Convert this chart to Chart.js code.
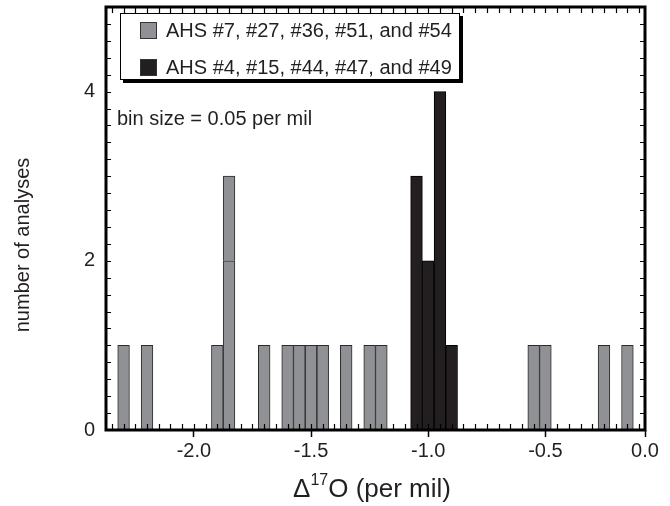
<!DOCTYPE html>
<html>
<head>
<meta charset="utf-8">
<script src="https://cdn.jsdelivr.net/npm/chart.js@4"></script>
<style>
  html, body { margin: 0; padding: 0; background: #fff; }
  #wrap { width: 670px; height: 506px; position: relative; }
</style>
</head>
<body>
<div id="wrap"><canvas id="c" width="670" height="506"></canvas></div>
<script>
// histogram, bin size 0.05 per mil, values are bin centres
const grayBins   = [-2.30, -2.20, -1.90, -1.85, -1.70, -1.60, -1.55, -1.50, -1.45, -1.35, -1.25, -1.20, -0.55, -0.50, -0.25, -0.15];
const grayCounts = [1, 1, 1, 2, 1, 1, 1, 1, 1, 1, 1, 1, 1, 1, 1, 1];
// the -1.85 bin is drawn as two blocks (2 + 1)
const grayTopBins   = [-1.85];
const grayTopCounts = [1];
const blackBins   = [-1.05, -1.00, -0.95, -0.90];
const blackCounts = [3, 2, 4, 1];

const xTickValues = [-2.0, -1.5, -1.0, -0.5, 0.0];
const xTickLabels = ['-2.0', '-1.5', '-1.0', '-0.5', '0.0'];
const yTickValues = [0, 2, 4];
const xRange = [-2.375, -0.075];
const yRange = [0, 5];
const binSize = 0.05;

const legendLabels = ['AHS #7, #27, #36, #51, and #54', 'AHS #4, #15, #44, #47, and #49'];
const grayColor = '#909195';
const blackColor = '#231f20';
const FONT = "'Liberation Sans', Arial, Helvetica, sans-serif";

const toPoints = (bins, counts) => bins.map((b, i) => ({ x: b, y: counts[i] }));

const decorations = {
  id: 'decorations',
  afterDatasetsDraw(chart) {
    const { ctx, chartArea: a, scales: { x, y } } = chart;
    ctx.save();
    ctx.strokeStyle = '#000';
    // minor ticks, pointing inward
    ctx.lineWidth = 1.2;
    ctx.beginPath();
    for (let v = xRange[0] + binSize / 2; v < xRange[1]; v += binSize) {
      const px = Math.round(x.getPixelForValue(v)) + 0.5;
      ctx.moveTo(px, a.bottom); ctx.lineTo(px, a.bottom - 6);
      ctx.moveTo(px, a.top); ctx.lineTo(px, a.top + 6);
    }
    for (let v = 0.2; v < yRange[1]; v += 0.2) {
      const py = Math.round(y.getPixelForValue(v)) + 0.5;
      ctx.moveTo(a.left, py); ctx.lineTo(a.left + 5, py);
      ctx.moveTo(a.right, py); ctx.lineTo(a.right - 5, py);
    }
    ctx.stroke();
    // frame
    ctx.lineWidth = 3;
    ctx.strokeRect(a.left, a.top, a.right - a.left, a.bottom - a.top);
    ctx.restore();
  },
  afterDraw(chart) {
    const { ctx } = chart;
    ctx.save();
    // legend box with drop shadow
    const bx = 120, by = 13, bw = 340, bh = 67;
    ctx.fillStyle = '#000';
    ctx.fillRect(bx + 3, by + 3, bw, bh);
    ctx.fillStyle = '#fff';
    ctx.fillRect(bx, by, bw, bh);
    ctx.lineWidth = 1;
    ctx.strokeStyle = '#000';
    ctx.strokeRect(bx + 0.5, by + 0.5, bw - 1, bh - 1);

    const rows = [30, 67];
    const swatches = [grayColor, blackColor];
    ctx.font = '20px ' + FONT;
    ctx.textBaseline = 'middle';
    ctx.textAlign = 'left';
    legendLabels.forEach((lab, i) => {
      ctx.fillStyle = swatches[i];
      ctx.fillRect(140, rows[i] - 8, 17, 17);
      ctx.strokeStyle = '#333';
      ctx.strokeRect(140.5, rows[i] - 7.5, 16, 16);
      ctx.fillStyle = blackColor;
      ctx.fillText(lab, 166, rows[i] + 1);
    });

    ctx.fillText('bin size = 0.05 per mil', 117, 119);

    // y title
    ctx.save();
    ctx.translate(29, 245);
    ctx.rotate(-Math.PI / 2);
    ctx.textAlign = 'center';
    ctx.textBaseline = 'alphabetic';
    ctx.font = '20px ' + FONT;
    ctx.fillText('number of analyses', 0, 0);
    ctx.restore();

    // x title with superscript
    const parts = [['\u0394', 26, 0], ['17', 16, -12], ['O (per mil)', 26, 0]];
    let total = 0;
    parts.forEach(p => { ctx.font = p[1] + 'px ' + FONT; total += ctx.measureText(p[0]).width; });
    let cx = 372 - total / 2;
    ctx.textBaseline = 'alphabetic';
    parts.forEach(p => {
      ctx.font = p[1] + 'px ' + FONT;
      ctx.fillText(p[0], cx, 497 + p[2]);
      cx += ctx.measureText(p[0]).width;
    });
    ctx.restore();
  }
};

new Chart(document.getElementById('c'), {
  type: 'bar',
  data: {
    datasets: [
      { label: legendLabels[0], data: toPoints(grayBins, grayCounts), backgroundColor: grayColor, borderColor: '#2b2b2b', borderWidth: 1 },
      { label: legendLabels[0], data: toPoints(grayTopBins, grayTopCounts), backgroundColor: grayColor, borderColor: '#2b2b2b', borderWidth: 1 },
      { label: legendLabels[1], data: toPoints(blackBins, blackCounts), backgroundColor: blackColor, borderColor: '#000', borderWidth: 1 }
    ]
  },
  options: {
    responsive: false,
    animation: false,
    barPercentage: 1,
    categoryPercentage: 1,
    layout: { padding: { top: 7, right: 25, left: 0, bottom: 0 } },
    plugins: { legend: { display: false }, tooltip: { enabled: false } },
    scales: {
      x: {
        type: 'linear',
        offset: false,
        min: xRange[0],
        max: xRange[1],
        stacked: true,
        afterBuildTicks: s => { s.ticks = xTickValues.map(v => ({ value: Math.min(v, s.max) })); },
        afterFit: s => { s.height = 76; s.paddingLeft = 0; s.paddingRight = 0; },
        grid: { offset: false, drawOnChartArea: false, drawTicks: true, tickLength: 7, tickWidth: 1.5, tickColor: '#000' },
        border: { display: false },
        ticks: {
          autoSkip: false, maxRotation: 0, padding: 2, color: blackColor,
          font: { family: FONT, size: 20 },
          callback: (v, i) => xTickLabels[i]
        }
      },
      y: {
        min: yRange[0],
        max: yRange[1],
        stacked: true,
        afterBuildTicks: s => { s.ticks = yTickValues.map(v => ({ value: v })); },
        afterFit: s => { s.width = 106; s.paddingTop = 0; s.paddingBottom = 0; },
        grid: { display: false, drawTicks: false },
        border: { display: false },
        ticks: { padding: 11, color: blackColor, font: { family: FONT, size: 20 } }
      }
    }
  },
  plugins: [decorations]
});
</script>
</body>
</html>
